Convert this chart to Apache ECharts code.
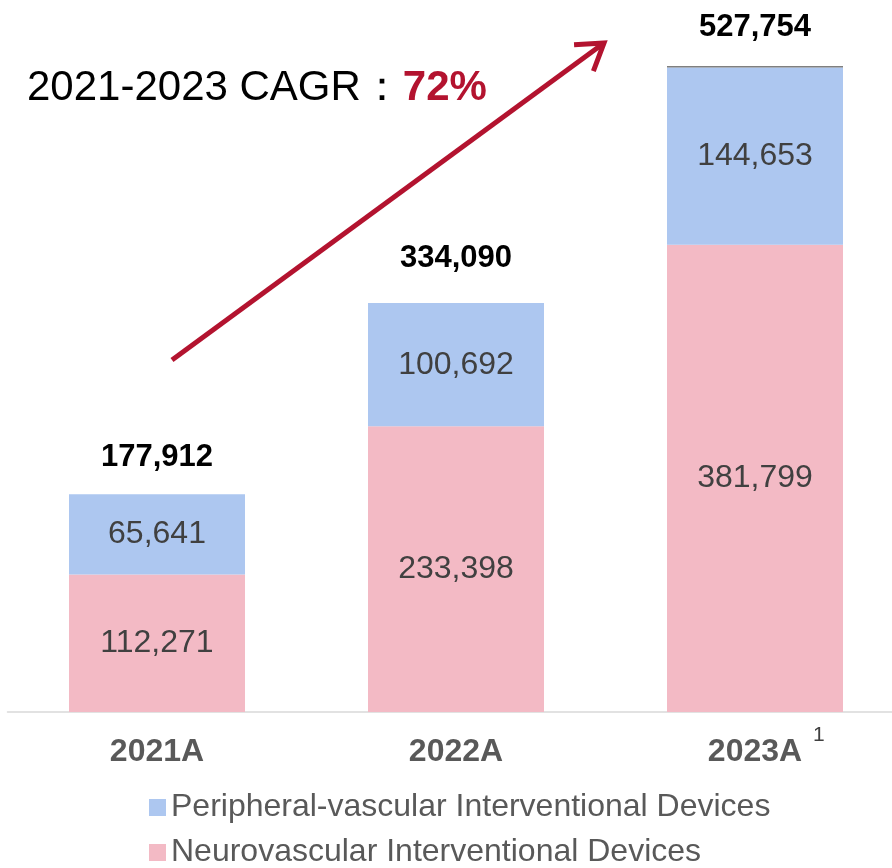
<!DOCTYPE html>
<html>
<head>
<meta charset="utf-8">
<script src="https://cdn.jsdelivr.net/npm/echarts@6/dist/echarts.min.js"></script>
<style>
  html, body { margin: 0; padding: 0; background: #fff; }
  #chart { width: 892px; height: 868px; }
</style>
</head>
<body>
<div id="chart"></div>
<script>
// data
const years = ['2021A', '2022A', '2023A']
const neuroValues = [112271, 233398, 381799]
const peripheralValues = [65641, 100692, 144653]
const otherValues = [0, 0, 1302] // thin grey cap on 2023
const totals = [177912, 334090, 527754]
const totalLabelGap = [21, 29, 23]

const FONT = "'Liberation Sans', Arial, sans-serif"
const RED = '#b3132f'

const chart = echarts.init(document.getElementById('chart'))

// arrow (annotation only)
const tail = [172, 360]
const tip = [604, 43]
function arrowHead(len, deg) {
  const dx = tail[0] - tip[0], dy = tail[1] - tip[1]
  const d = Math.hypot(dx, dy)
  const ux = dx / d, uy = dy / d
  const a = deg * Math.PI / 180
  const pts = []
  for (const s of [1, -1]) {
    const c = Math.cos(s * a), sn = Math.sin(s * a)
    pts.push([tip[0] + len * (ux * c - uy * sn), tip[1] + len * (ux * sn + uy * c)])
  }
  return [pts[0], tip, pts[1]]
}

const fmt = p => p.value.toLocaleString('en-US')
const totalLabel = { show: true, position: 'top', fontSize: 31, fontWeight: 'bold', color: '#000', opacity: 1, fontFamily: FONT, formatter: fmt }

const option = {
  animation: false,
  textStyle: { fontFamily: FONT },
  title: {
    left: 22,
    top: 62,
    text: '{a|2021-2023 CAGR}{c|：}{b|72%}',
    textStyle: {
      rich: {
        a: { fontSize: 42, color: '#000', fontFamily: FONT, fontWeight: 'normal' },
        c: { fontSize: 42, color: '#000', fontFamily: FONT, fontWeight: 'normal' },
        b: { fontSize: 42, color: RED, fontFamily: FONT, fontWeight: 'bold' }
      }
    }
  },
  legend: {
    orient: 'vertical',
    left: 149,
    top: 791,
    height: 100,
    padding: 0,
    itemWidth: 17,
    itemHeight: 17,
    itemGap: 12,
    icon: 'rect',
    data: ['Peripheral-vascular Interventional Devices', 'Neurovascular Interventional Devices'],
    textStyle: { fontSize: 32, color: '#595959', fontFamily: FONT, lineHeight: 33 }
  },
  grid: { left: 7.5, width: 897, top: 66, bottom: 156, outerBoundsMode: 'none', containLabel: false },
  xAxis: {
    type: 'category',
    data: years,
    axisLine: { lineStyle: { color: '#d9d9d9', width: 1.5 } },
    axisTick: { show: false },
    axisLabel: { fontSize: 32, fontWeight: 'bold', color: '#595959', margin: 24, fontFamily: FONT }
  },
  yAxis: { type: 'value', min: 0, max: 527754, show: false, splitLine: { show: false } },
  series: [
    {
      name: 'Neurovascular Interventional Devices',
      type: 'bar', stack: 'total', barWidth: 176,
      data: neuroValues,
      itemStyle: { color: '#f3bac5' },
      label: { show: true, position: 'inside', fontSize: 32, color: '#404040', fontFamily: FONT, formatter: fmt }
    },
    {
      name: 'Peripheral-vascular Interventional Devices',
      type: 'bar', stack: 'total', barWidth: 176,
      data: peripheralValues,
      itemStyle: { color: '#adc7f0' },
      label: { show: true, position: 'inside', fontSize: 32, color: '#404040', fontFamily: FONT, formatter: fmt }
    },
    {
      name: 'Other',
      type: 'bar', stack: 'total', barWidth: 176,
      data: otherValues,
      itemStyle: { color: '#7f7f7f' },
      label: { show: false }
    },
    {
      name: 'Total',
      type: 'scatter',
      symbolSize: 1,
      silent: true,
      itemStyle: { color: 'rgba(0,0,0,0)', opacity: 1 },
      data: totals.map((v, i) => ({ value: v, label: Object.assign({}, totalLabel, { distance: totalLabelGap[i] }) })),
      label: totalLabel
    }
  ],
  graphic: [
    {
      type: 'line',
      shape: { x1: tail[0], y1: tail[1], x2: tip[0], y2: tip[1] },
      style: { stroke: RED, lineWidth: 5 }
    },
    {
      type: 'polyline',
      shape: { points: arrowHead(30, 33) },
      style: { stroke: RED, lineWidth: 5, fill: null, lineJoin: 'miter' }
    },
    {
      type: 'text',
      left: 813,
      top: 725,
      style: { text: '1', fontSize: 21, fill: '#404040', fontFamily: FONT }
    }
  ]
}

chart.setOption(option)
</script>
</body>
</html>
